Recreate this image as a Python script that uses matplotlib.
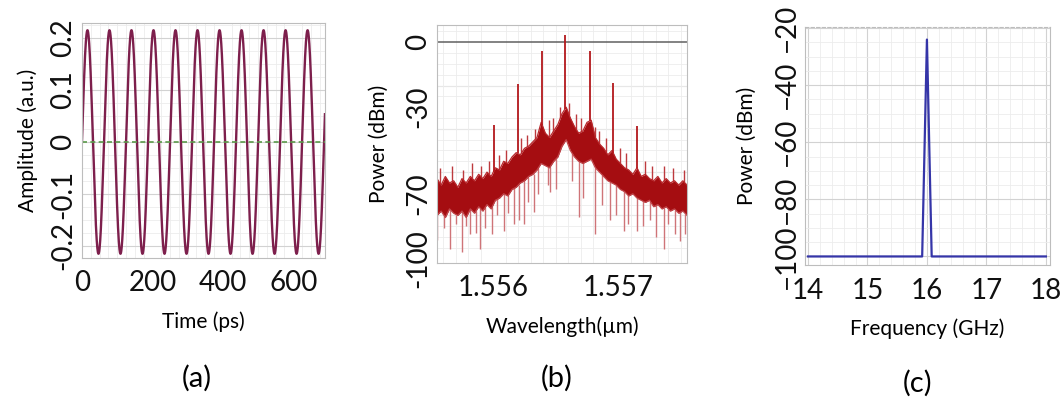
import matplotlib.pyplot as plt
import numpy as np
from matplotlib.ticker import MultipleLocator

plt.rcParams['font.family'] = ['Lato', 'DejaVu Sans']

# (a) tidssignal: en ren sinus
amp = 0.215          # a.u.
freq_ghz = 16        # GHz
t_end = 690          # ps
t_ps = np.linspace(0, t_end, 3000)
wave = amp * np.sin(2 * np.pi * freq_ghz * 1e-3 * t_ps)

# (b) optisk spektrum, aflæst: øvre og nedre kant af støjbåndet
wl_grid = np.linspace(1.55555, 1.55755, 61)
band_top = [-63, -66, -62, -65, -64, -67, -63, -65, -62, -64, -61, -63, -60, -62, -58, -59,
            -55, -56, -53, -51, -52, -49, -48, -46, -44, -37, -42, -44, -41, -38, -33, -30,
            -35, -39, -42, -41, -37, -36, -44, -47, -49, -52, -50, -54, -56, -58, -59, -61,
            -58, -62, -61, -63, -64, -62, -65, -63, -65, -64, -66, -64, -66]
band_bot = [-80, -78, -81, -77, -79, -80, -78, -81, -77, -79, -76, -78, -75, -77, -73, -72,
            -70, -71, -68, -67, -65, -64, -62, -61, -59, -56, -57, -58, -55, -53, -48, -45,
            -50, -53, -55, -56, -55, -54, -58, -60, -62, -64, -65, -66, -68, -69, -71, -70,
            -72, -73, -74, -73, -76, -75, -77, -76, -78, -77, -79, -78, -80]
# sidebånd (toppe)
peak_wl = [1.556002, 1.556194, 1.556390, 1.556576, 1.556770, 1.556958, 1.557150]
peak_db = [-38, -19.5, -4.2, 3.5, -4.2, -19, -38.5]
# små støjspidser over båndet
fuzz_wl = [1.555576, 1.555672, 1.555760, 1.555832, 1.555904, 1.555968, 1.556048, 1.556104,
           1.556224, 1.556272, 1.556336, 1.556448, 1.556480, 1.556536, 1.556608, 1.556664,
           1.556704, 1.556816, 1.556848, 1.556904, 1.557016, 1.557064, 1.557216, 1.557272,
           1.557368, 1.557440, 1.557528]
fuzz_db = [-58, -57, -59, -56, -57, -55, -52, -50, -44, -43, -40, -36, -35, -30, -28, -33,
           -35, -39, -41, -44, -49, -51, -55, -57, -57, -58, -59]
# nedadgående støjspidser
dip_wl = [1.555550, 1.555656, 1.555750, 1.555816, 1.555896, 1.555990, 1.556082, 1.556202,
          1.556242, 1.556322, 1.556456, 1.556682, 1.556816, 1.556936, 1.557042, 1.557150,
          1.557256, 1.557362, 1.557456, 1.557536,
          1.555608, 1.555704, 1.555784, 1.555864, 1.555936, 1.556032, 1.556120, 1.556168,
          1.556280, 1.556360, 1.556440, 1.556504, 1.556632, 1.556720, 1.556872, 1.556984,
          1.557080, 1.557200, 1.557304, 1.557400, 1.557496]
dip_db = [-91.6, -95.5, -97, -88.5, -95.5, -88.5, -87, -82.3, -83.9, -78.5, -69, -80.8,
          -88.5, -82.3, -87, -87, -82.3, -95.5, -88.5, -88.5,
          -86, -84, -85, -88, -86, -80, -79, -84, -74, -70, -66, -68, -64, -72, -75, -80,
          -84, -85, -90, -84, -92]

# (c) RF-spektrum
freq = [14, 15.92, 16.0, 16.08, 18]
power_rf = [-100, -100, -24, -100, -100]

fig = plt.figure(figsize=(10.63, 4.03), dpi=100)
ax_a = fig.add_axes([0.0771, 0.360, 0.2286, 0.583])
ax_b = fig.add_axes([0.4111, 0.3474, 0.2352, 0.5906])
ax_c = fig.add_axes([0.7573, 0.3424, 0.2305, 0.5906])

grid_minor = dict(color='#ececec', lw=0.6)
grid_major = dict(color='#d2d2d2', lw=0.8)

for ax in (ax_a, ax_b, ax_c):
    for s in ax.spines.values():
        s.set_color('#bdbdbd')
        s.set_linewidth(0.8)
    ax.tick_params(which='both', length=0, labelsize=20, colors='#111111')
    ax.tick_params(axis='x', pad=9)
    ax.tick_params(axis='y', pad=4)
    ax.set_axisbelow(True)

# --- (a) ---
ax_a.plot(t_ps, wave, color='#7d1f4c', lw=1.7)
ax_a.axhline(0, color='#5a9a4a', lw=1.2, ls='--', dashes=(3, 2))
ax_a.set_xlim(0, t_end)
ax_a.set_ylim(-0.223, 0.229)
ax_a.set_xticks([0, 200, 400, 600])
ax_a.set_yticks([-0.2, -0.1, 0, 0.1, 0.2])
ax_a.set_yticklabels(['-0.2', '-0.1', '0', '0.1', '0.2'])
ax_a.xaxis.set_minor_locator(MultipleLocator(25))
ax_a.yaxis.set_minor_locator(MultipleLocator(0.025))
ax_a.grid(which='minor', **grid_minor)
ax_a.grid(which='major', axis='y', **grid_major)
ax_a.set_xlabel('Time (ps)', fontsize=15, labelpad=11)
ax_a.set_ylabel('Amplitude (a.u.)', fontsize=15, labelpad=9)

# --- (b) ---
dip_top = np.interp(dip_wl, wl_grid, band_bot)
ax_b.vlines(dip_wl, dip_db, dip_top, color='#cf7478', lw=1.0, zorder=1.5)
fuzz_base = np.interp(fuzz_wl, wl_grid, band_top)
ax_b.vlines(fuzz_wl, fuzz_base, fuzz_db, color='#bd3a3e', lw=1.0, zorder=1.6)
ax_b.fill_between(wl_grid, band_bot, band_top, color='#a50d11', lw=0, zorder=2)
ax_b.plot(wl_grid, band_top, color='#b8282c', lw=0.9, zorder=2)
ax_b.plot(wl_grid, band_bot, color='#c0454a', lw=0.9, zorder=2)
peak_base = np.interp(peak_wl, wl_grid, band_top)
ax_b.vlines(peak_wl, peak_base, peak_db, color='#b3181c', lw=1.3, zorder=2)
ax_b.axhline(0, color='#606060', lw=1.1, zorder=1)
ax_b.set_xlim(1.55555, 1.55755)
ax_b.set_ylim(-102, 8)
ax_b.set_xticks([1.556, 1.557])
ax_b.set_xticklabels(['1.556', '1.557'])
ax_b.set_yticks([-100, -70, -30, 0])
ax_b.set_yticklabels(['-100', '-70', '-30', '0'])
ax_b.xaxis.set_minor_locator(MultipleLocator(0.0001))
ax_b.yaxis.set_minor_locator(MultipleLocator(5))
ax_b.grid(which='minor', **grid_minor)
for v in (-20, -40, -60, -80):
    ax_b.axhline(v, zorder=0.5, **grid_major)
ax_b.set_xlabel('Wavelength(\u00b5m)', fontsize=15, labelpad=11)
ax_b.set_ylabel('Power (dBm)', fontsize=15, labelpad=12)

# --- (c) ---
ax_c.plot(freq, power_rf, color='#3535a8', lw=1.6)
ax_c.set_xlim(13.95, 18.07)
ax_c.set_ylim(-103, -19.6)
ax_c.set_xticks([14, 15, 16, 17, 18])
ax_c.set_yticks([-100, -80, -60, -40, -20])
ax_c.xaxis.set_minor_locator(MultipleLocator(0.2))
ax_c.yaxis.set_minor_locator(MultipleLocator(5))
ax_c.grid(which='minor', **grid_minor)
ax_c.grid(which='major', **grid_major)
ax_c.spines['top'].set_linestyle((0, (3, 2)))
ax_c.set_xlabel('Frequency (GHz)', fontsize=15, labelpad=11)
ax_c.set_ylabel('Power (dBm)', fontsize=15, labelpad=12)

for ax in (ax_a, ax_b, ax_c):
    plt.setp(ax.get_yticklabels(), rotation=90, va='center')

# panelbogstaver
fig.text(197 / 1063, 1 - 378 / 403, '(a)', fontsize=21, ha='center', va='center')
fig.text(557 / 1063, 1 - 378 / 403, '(b)', fontsize=21, ha='center', va='center')
fig.text(918 / 1063, 1 - 383 / 403, '(c)', fontsize=21, ha='center', va='center')

fig.savefig('out.png', dpi=100)
